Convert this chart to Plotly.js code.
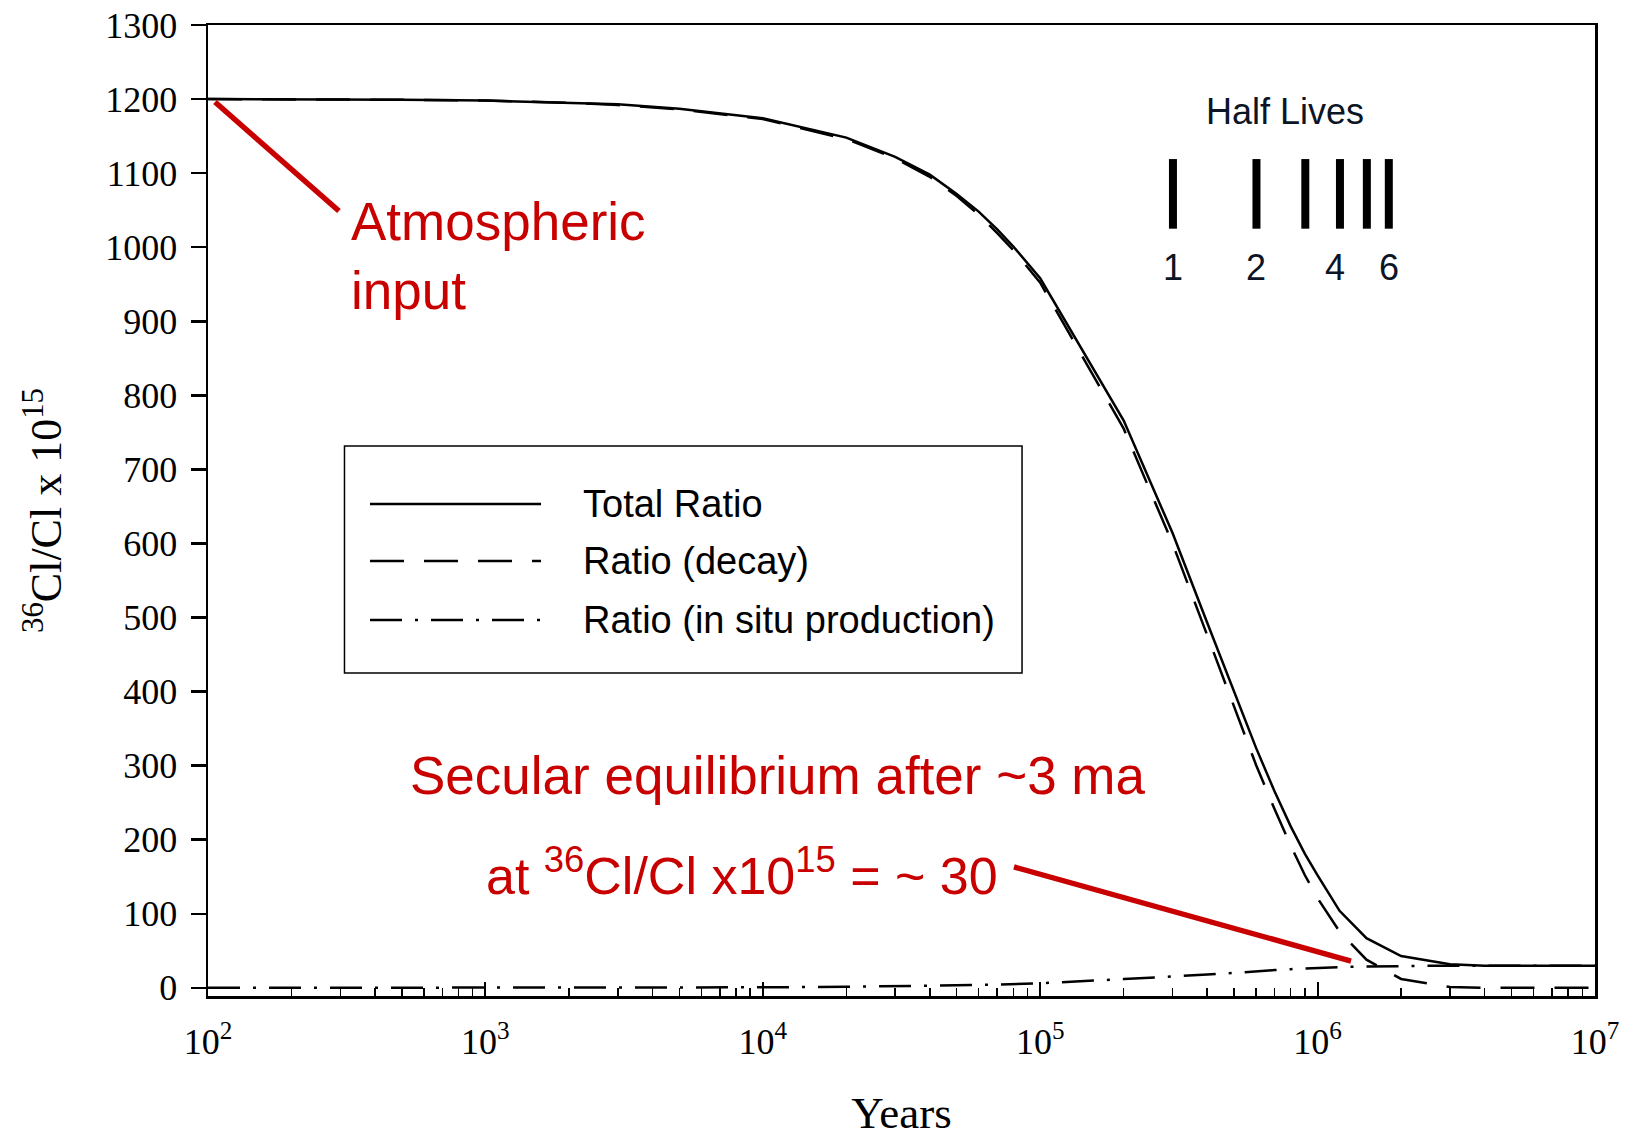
<!DOCTYPE html>
<html>
<head>
<meta charset="utf-8">
<script src="https://cdn.plot.ly/plotly-3.0.1.min.js"></script>
<style>html,body{margin:0;padding:0;background:#fff;}#chart{width:1627px;height:1138px;}</style>
</head>
<body>
<div id="chart"></div>
<script>
// ---- data ----
var years = [100, 200, 300, 500, 1000, 2000, 3000, 5000, 10000, 20000, 30000, 40000, 50000, 60000, 70000, 80000, 90000,
  100000, 200000, 300000, 400000, 500000, 600000, 700000, 800000, 900000, 1000000, 1200000, 1500000, 2000000,
  3000000, 4000000, 5000000, 7000000, 10000000];
var totalRatio = [1200, 1200, 1199, 1199, 1198, 1195, 1193, 1187, 1174, 1148, 1122, 1098, 1072, 1048, 1024, 1001, 979,
  958, 766, 614, 493, 399, 324, 265, 218, 181, 152, 104, 67, 43, 32, 30, 30, 30, 30];
var decayRatio = [1200, 1200, 1199, 1199, 1198, 1195, 1192, 1186, 1173, 1146, 1120, 1095, 1069, 1044, 1019, 996, 973,
  952, 755, 600, 476, 379, 301, 241, 192, 152, 121, 76, 38, 12, 1.2, 0.1, 0, 0, 0];
var inSituRatio = [0, 0, 0, 0, 0.1, 0.1, 0.2, 0.3, 0.7, 1.4, 2.0, 2.6, 3.2, 3.9, 4.5, 5.0, 5.6,
  6.2, 11.8, 15.0, 18.0, 20.1, 22.5, 24.0, 25.2, 26.2, 27.0, 28.1, 28.9, 29.7, 30, 30, 30, 30, 30];
var seriesNames = ['Total Ratio', 'Ratio (decay)', 'Ratio (in situ production)'];
var halfLives = [301000, 602000, 903000, 1204000, 1505000, 1806000];
var halfLifeLabels = ['1', '2', '', '4', '', '6'];
var yTicks = [0, 100, 200, 300, 400, 500, 600, 700, 800, 900, 1000, 1100, 1200, 1300];
var xTicks = [100, 1000, 10000, 100000, 1000000, 10000000];
var xTickText = ['10<sup>2</sup>', '10<sup>3</sup>', '10<sup>4</sup>', '10<sup>5</sup>', '10<sup>6</sup>', '10<sup>7</sup>'];

// ---- styles ----
var dashes = ['solid', '34px,20px', '32px,13px,3px,13px'];
var red = '#C80000';
var serif = 'Liberation Serif, Times New Roman, serif';
var sans = 'Liberation Sans, Arial, sans-serif';

var seriesData = [totalRatio, decayRatio, inSituRatio];
var traces = seriesData.map(function (vals, i) {
  return {
    x: years, y: vals, type: 'scatter', mode: 'lines', name: seriesNames[i],
    line: {color: '#000', width: 2.5, dash: dashes[i]}, showlegend: false, hoverinfo: 'x+y+name'
  };
});

var shapes = [];
var annotations = [];

// half-life bars
halfLives.forEach(function (h, i) {
  shapes.push({type: 'line', xref: 'x', yref: 'y', x0: h, x1: h, y0: 1025, y1: 1119,
    line: {color: '#000', width: 8}});
  if (halfLifeLabels[i]) {
    annotations.push({xref: 'x', yref: 'y', x: Math.log10(h), y: 972, text: halfLifeLabels[i], showarrow: false,
      xshift: (i === 3 ? -5 : 0),
      font: {family: sans, size: 36, color: '#0b1526'}, xanchor: 'center', yanchor: 'middle'});
  }
});
annotations.push({xref: 'paper', yref: 'paper', x: 0.7765, y: 0.9114, text: 'Half Lives', showarrow: false,
  font: {family: sans, size: 36, color: '#0b1526'}, xanchor: 'center', yanchor: 'middle'});

// custom legend (box, long sample lines, labels)
var lgX0 = 0.0984, lgX1 = 0.5869, lgY0 = 0.3326, lgY1 = 0.5664;
var itemY = [0.5067, 0.4480, 0.3872];
shapes.push({type: 'rect', xref: 'paper', yref: 'paper', x0: lgX0, x1: lgX1, y0: lgY0, y1: lgY1,
  line: {color: '#000', width: 1.5}, fillcolor: 'rgba(0,0,0,0)'});
seriesNames.forEach(function (nm, i) {
  shapes.push({type: 'line', xref: 'paper', yref: 'paper', x0: 0.1168, x1: 0.2401, y0: itemY[i], y1: itemY[i],
    line: {color: '#000', width: 2.5, dash: dashes[i]}});
  annotations.push({xref: 'paper', yref: 'paper', x: 0.2689, y: itemY[i], text: nm, showarrow: false,
    xanchor: 'left', yanchor: 'middle', font: {family: sans, size: 38, color: '#000'}});
});

// red callouts
annotations.push({xref: 'paper', yref: 'paper', x: 0.1018, y: 0.7621, text: 'Atmospheric<br>input', showarrow: false,
  xanchor: 'left', yanchor: 'middle', align: 'left', font: {family: sans, size: 53, color: red}});
shapes.push({type: 'line', xref: 'paper', yref: 'paper', x0: 0.00505, y0: 0.9207, x1: 0.0944, y1: 0.8084,
  line: {color: red, width: 5.5}});
annotations.push({xref: 'paper', yref: 'paper', x: 0.411, y: 0.2276, text: 'Secular equilibrium after ~3 ma', showarrow: false,
  xanchor: 'center', yanchor: 'middle', font: {family: sans, size: 53, color: red}});
annotations.push({xref: 'paper', yref: 'paper', x: 0.385, y: 0.1277, text: 'at <sup>36</sup>Cl/Cl x10<sup>15</sup> = ~ 30', showarrow: false,
  xanchor: 'center', yanchor: 'middle', font: {family: sans, size: 52, color: red}});
shapes.push({type: 'line', xref: 'paper', yref: 'paper', x0: 0.5811, y0: 0.1329, x1: 0.8241, y1: 0.0360,
  line: {color: red, width: 5.5}});

var layout = {
  width: 1627, height: 1138,
  margin: {l: 208, r: 32, t: 25, b: 142},
  paper_bgcolor: '#fff', plot_bgcolor: '#fff',
  showlegend: false,
  xaxis: {
    type: 'log', range: [2, 7.00001], tickvals: xTicks, ticktext: xTickText,
    ticks: 'inside', ticklen: 14, tickwidth: 2, tickcolor: '#000',
    minor: {ticks: 'inside', ticklen: 8, tickwidth: 1.5, tickcolor: '#000', showgrid: false, dtick: 'D1'},
    showline: true, linewidth: 2.5, linecolor: '#000', mirror: true, showgrid: false, zeroline: false,
    tickfont: {family: serif, size: 36, color: '#000'}, ticklabelstandoff: 12,
    title: {text: 'Years', font: {family: serif, size: 45, color: '#000'}, standoff: 48}
  },
  yaxis: {
    range: [-11, 1300], tickvals: yTicks, ticks: 'outside', ticklen: 15, tickwidth: 2.5, tickcolor: '#000',
    showline: true, linewidth: 2.5, linecolor: '#000', mirror: true, showgrid: false, zeroline: false,
    tickfont: {family: serif, size: 36, color: '#000'}, ticklabelstandoff: 6,
    title: {text: '<sup>36</sup>Cl/Cl x 10<sup>15</sup>', font: {family: serif, size: 44, color: '#000'}, standoff: 30}
  },
  shapes: shapes,
  annotations: annotations
};

Plotly.newPlot('chart', traces, layout, {displayModeBar: false, staticPlot: true});
</script>
</body>
</html>
